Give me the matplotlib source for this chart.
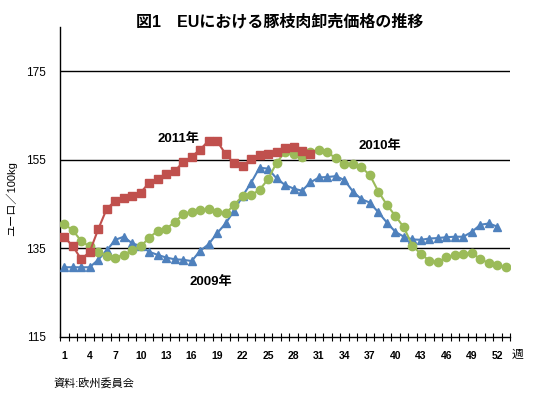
import numpy as np
import matplotlib
matplotlib.use("Agg")
import matplotlib.pyplot as plt

plt.rcParams['font.family'] = ['Liberation Sans', 'Noto Sans CJK JP']

# weekly wholesale price of pig carcasses, EUR/100kg
p2009 = [130.7, 130.7, 130.7, 130.7, 132.4, 134.5, 136.9, 137.6, 136.1, 135.5,
         134.2, 133.5, 132.9, 132.5, 132.4, 132.1, 134.4, 135.9, 138.4, 140.6,
         143.5, 146.8, 149.8, 153.2, 153.0, 150.8, 149.3, 148.5, 148.0, 149.9,
         151.0, 151.1, 151.3, 150.4, 147.8, 146.1, 145.3, 143.1, 140.8, 138.7,
         137.6, 137.0, 136.9, 137.2, 137.3, 137.5, 137.6, 137.6, 138.7, 140.3,
         140.6, 139.9]
p2010 = [140.4, 139.1, 136.6, 135.4, 134.2, 133.3, 132.9, 133.5, 134.5, 135.4,
         137.4, 138.9, 139.4, 140.9, 142.7, 143.3, 143.6, 143.8, 143.1, 142.9,
         144.8, 146.8, 147.0, 148.2, 150.6, 154.3, 156.8, 156.2, 155.7, 156.8,
         157.2, 156.7, 155.3, 154.0, 154.0, 153.3, 151.5, 147.8, 144.8, 142.3,
         139.7, 135.6, 133.7, 132.2, 131.8, 133.0, 133.5, 133.7, 133.9, 132.6,
         131.6, 131.1, 130.7]
p2011 = [137.5, 135.5, 132.5, 134.2, 139.3, 143.9, 145.7, 146.3, 146.9, 147.6,
         149.8, 150.6, 151.7, 152.4, 154.5, 155.7, 157.3, 159.3, 159.2, 156.3,
         154.2, 153.6, 155.1, 156.1, 156.4, 156.8, 157.6, 157.8, 157.0, 156.3]
week_labels = list(range(1, 54, 3))

fig = plt.figure(figsize=(5.33, 3.98), dpi=100)
ax = fig.add_axes([0.1126, 0.154, 0.8443, 0.778])

ax.plot(range(1, len(p2009) + 1), p2009, color='#4F81BD', marker='^', ms=6, lw=1.5, zorder=3)
ax.plot(range(1, len(p2010) + 1), p2010, color='#9BBB59', marker='o', ms=6, lw=1.5, zorder=3)
ax.plot(range(1, len(p2011) + 1), p2011, color='#C0504D', marker='s', ms=6, lw=1.5, zorder=4)

ax.set_xlim(0.5, 53.5)
ax.set_ylim(115, 185)
ax.set_yticks([115, 135, 155, 175])
ax.tick_params(axis='y', length=0, labelsize=8.5, pad=10)
for v in [135, 155, 175]:
    ax.axhline(v, color='black', lw=1, zorder=1)

ax.set_xticks(week_labels)
ax.set_xticklabels([str(w) for w in week_labels], fontsize=7.5, fontweight='bold')
ax.set_xticks(np.arange(0.5, 54, 1), minor=True)
ax.tick_params(axis='x', which='major', length=0, pad=10)
ax.tick_params(axis='x', which='minor', direction='inout', length=6, width=0.8)

for s in ['top', 'right']:
    ax.spines[s].set_visible(False)
for s in ['left', 'bottom']:
    ax.spines[s].set_linewidth(1)

ax.text(14.4, 159.7, '2011年', ha='center', va='center', fontsize=9.5, fontweight='bold')
ax.text(38.2, 158.1, '2010年', ha='center', va='center', fontsize=9.5, fontweight='bold')
ax.text(18.3, 127.4, '2009年', ha='center', va='center', fontsize=9.5, fontweight='bold')

fig.text(0.525, 0.945, '図1　EUにおける豚枝肉卸売価格の推移', ha='center', va='center',
         fontsize=11.5, fontweight='bold')
fig.text(0.022, 0.5, 'ユーロ／100kg', rotation=90, ha='center', va='center', fontsize=8)
fig.text(0.97, 0.108, '週', ha='center', va='center', fontsize=8.5)
fig.text(0.1, 0.038, '資料:欧州委員会', ha='left', va='center', fontsize=8)

fig.savefig('out.png', dpi=100)
